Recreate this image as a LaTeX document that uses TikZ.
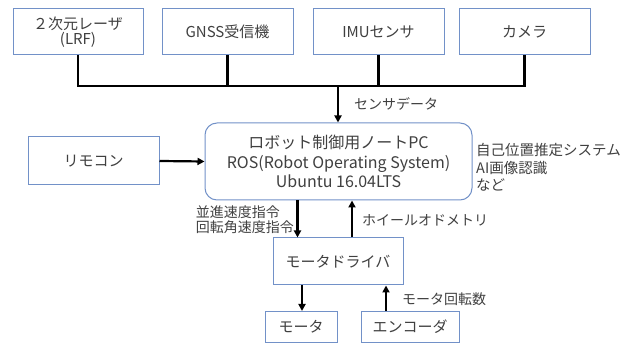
\documentclass[tikz,border=0pt]{standalone}
\usepackage{fontspec}
\setmainfont{Noto Sans CJK JP}
\usepackage{tikz}
\usetikzlibrary{calc}
\usetikzlibrary{positioning}
\usetikzlibrary{arrows.meta}

\definecolor{boxblue}{RGB}{114,145,200}
\definecolor{txtgray}{RGB}{64,64,64}

\tikzset{
	unit/.style={draw=boxblue, line width=1pt, fill=white, text=txtgray, align=center, inner sep=0pt, font=\fontsize{15}{15}\selectfont},
	pcbox/.style={unit, rounded corners=12pt, font=\fontsize{16}{19.5}\selectfont},
	wire/.style={line width=2.2pt, black},
	arr/.style={wire, -{Triangle[length=7pt,width=7pt]}},
	note/.style={text=txtgray, align=left, inner sep=0pt, font=\fontsize{14}{15.5}\selectfont}
}

\begin{document}
\begin{tikzpicture}[x=1pt, y=-1pt]
		\useasboundingbox (0,0) rectangle (630,344);

		\node[unit, minimum width=130pt, minimum height=46pt] (laser) at (78,32) {２次元レーザ\\(LRF)};
		\node[unit, minimum width=131pt, minimum height=46pt] (gnss) at (227.5,32) {GNSS受信機};
		\node[unit, minimum width=131pt, minimum height=46pt] (imu) at (378.5,32) {IMUセンサ};
		\node[unit, minimum width=131pt, minimum height=46pt] (camera) at (524.5,32) {カメラ};

		\node[pcbox, minimum width=267pt, minimum height=77pt] (pc) at (338.5,161.5) {ロボット制御用ノートPC\\ROS(Robot Operating System)\\Ubuntu 16.04LTS};
		\node[unit, minimum width=131pt, minimum height=48pt] (remote) at (93.5,161) {リモコン};

		\node[unit, minimum width=130pt, minimum height=47pt] (driver) at (338,261.5) {モータドライバ};
		\node[unit, minimum width=72pt, minimum height=31pt] (motor) at (301,327) {モータ};
		\node[unit, minimum width=98pt, minimum height=31pt] (encoder) at (410,327) {エンコーダ};

		\coordinate (busin) at (338,86);

		% sensors to pc
		\draw[wire] (laser.south) |- (camera.south |- busin) -- (camera.south);
		\draw[wire] (gnss.south) -- (gnss.south |- busin);
		\draw[wire] (imu.south) -- (imu.south |- busin);
		\draw[arr] (busin) -- node[note, anchor=west, xshift=15pt] {センサデータ} (busin |- pc.north);

		\draw[arr] (remote.east) -- (pc.west);

		% pc and driver
		\draw[arr] ([xshift=-41pt]pc.south) -- ([xshift=-41pt]pc.south |- driver.north);
		\draw[arr] ([xshift=14pt]driver.north) -- ([xshift=14pt]driver.north |- pc.south);
		\node[note, anchor=east] (cmd) at (294,219.5) {並進速度指令\\回転角速度指令};
		\node[note, anchor=west] (odom) at (362,220) {ホイールオドメトリ};

		\node[note, anchor=west, font=\fontsize{14.5}{17.5}\selectfont] (apps) at (476,167.5) {自己位置推定システム\\AI画像認識\\など};

		% driver, motor, encoder
		\draw[arr] ([xshift=1pt]motor.north |- driver.south) -- ([xshift=1pt]motor.north);
		\draw[arr] ([xshift=-24pt]encoder.north) -- ([xshift=-24pt]encoder.north |- driver.south);
		\node[note, anchor=west] (rev) at (402,299) {モータ回転数};
\end{tikzpicture}
\end{document}
